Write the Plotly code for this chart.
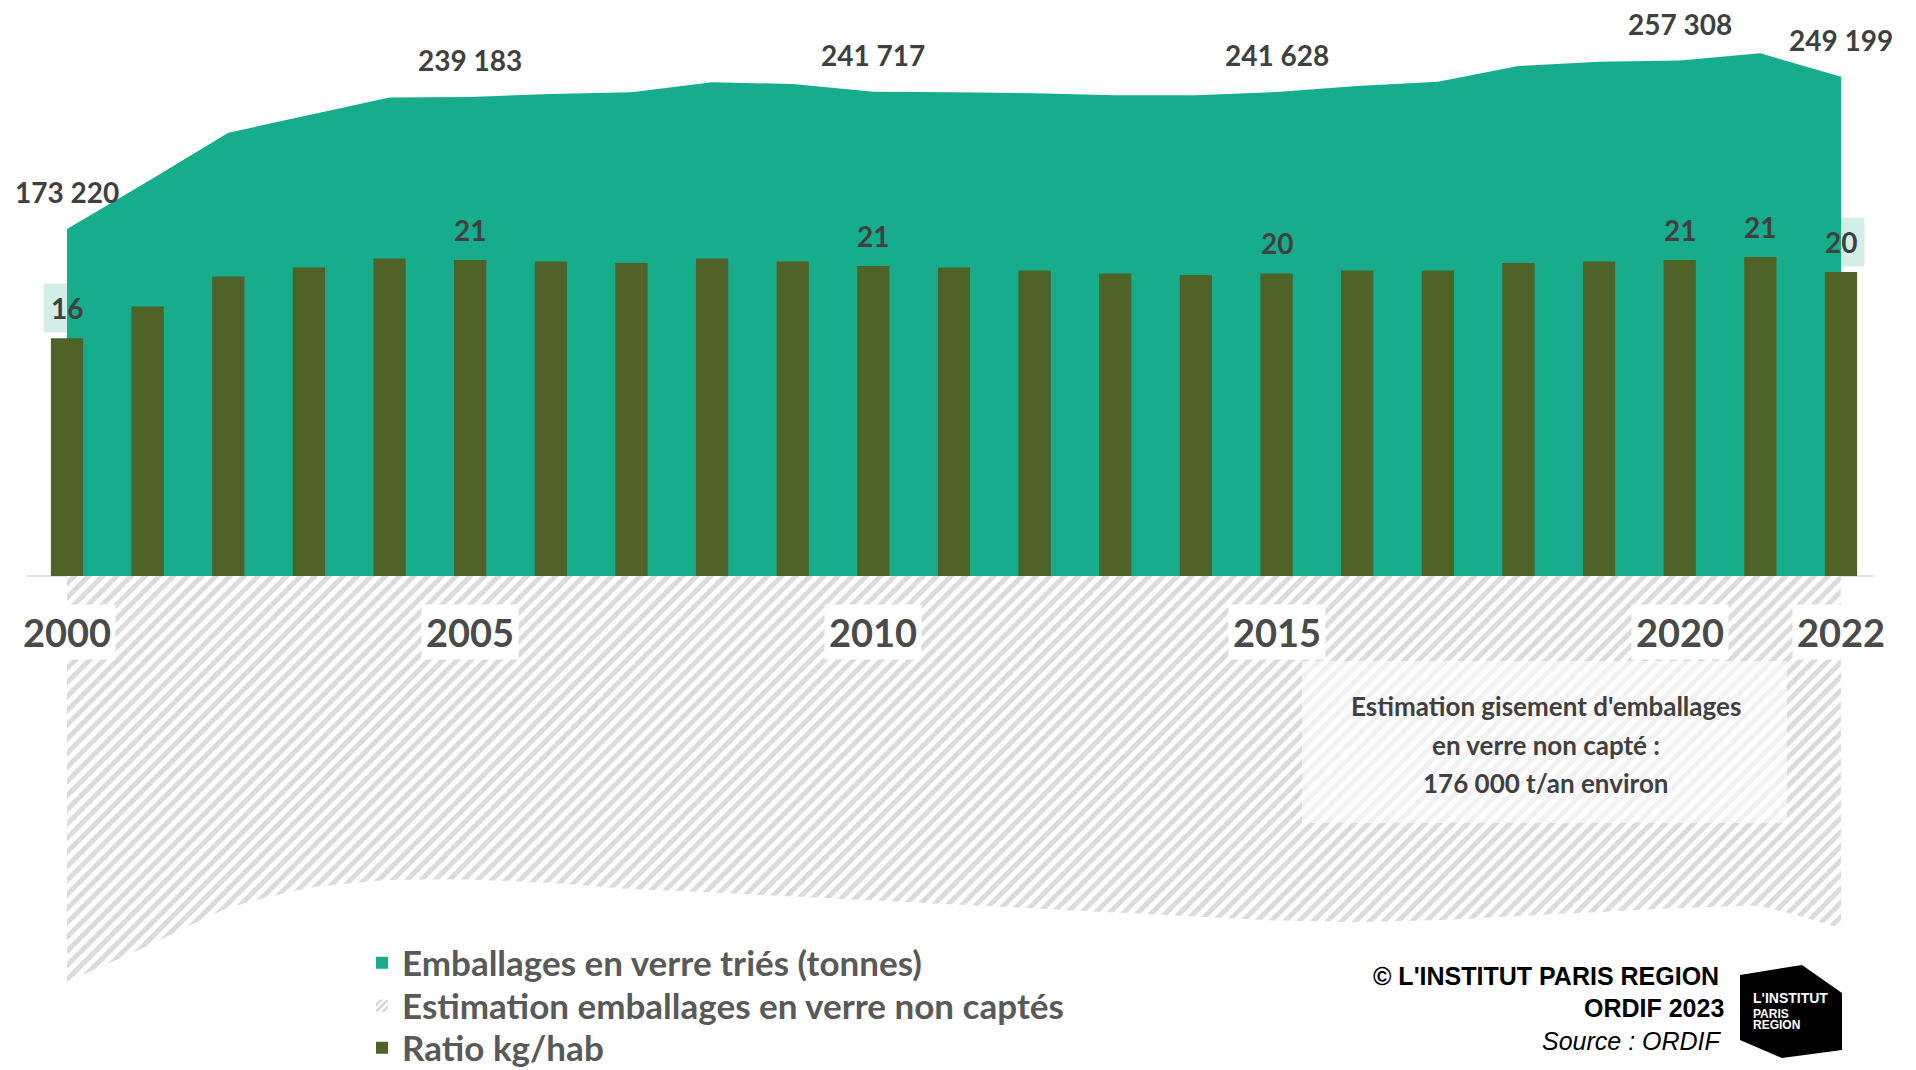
import plotly.graph_objects as go

W, H = 1916, 1070

years = list(range(2000, 2023))
tonnes_tries = [173220, 197000, 221300, 230000, 238900, 239183, 240600, 241500,
                246500, 245600, 241717, 241500, 241000, 240000, 240000, 241628,
                244600, 246800, 254600, 256800, 257308, 261000, 249199]
tonnes_non_captes = [202500, 184700, 165800, 155800, 151800, 151600, 153300, 156300,
                     158000, 160000, 162000, 164000, 166000, 168000, 170000, 172000,
                     172800, 171800, 169800, 167800, 165800, 165000, 175800]
ratio_kg_hab = [15.8, 17.9, 19.9, 20.5, 21.1, 21.0, 20.9, 20.8, 21.1, 20.9, 20.6,
                20.5, 20.3, 20.1, 20.0, 20.1, 20.3, 20.3, 20.8, 20.9, 21.0, 21.2, 20.2]

label_years_tonnes = [2000, 2005, 2010, 2015, 2020, 2022]
label_years_ratio = [2000, 2005, 2010, 2015, 2020, 2021, 2022]
boxed_ratio_years = [2000, 2022]
tick_years = [2000, 2005, 2010, 2015, 2020, 2022]

names = ["Emballages en verre triés (tonnes)",
         "Estimation emballages en verre non captés",
         "Ratio kg/hab"]
note_lines = ["Estimation gisement d'emballages", "en verre non capté :",
              "176 000 t/an environ"]
credit_lines = ["© L'INSTITUT PARIS REGION", "ORDIF 2023", "Source : ORDIF"]

GREEN = "#17AD8C"
OLIVE = "#4F6228"
HATCH = "#b8b8b8"
TXT = "#404040"

# geometry of the page (pixels)
x0_px, x1_px, base_px = 67, 1841, 576
px_per_year = (x1_px - x0_px) / 22
x_range = [2000 - x0_px / px_per_year, 2022 + (W - x1_px) / px_per_year]
t_per_px = 499.25
y_range = [-(H - base_px) * t_per_px, base_px * t_per_px]
kg_per_px = 1 / 15.05
y2_range = [-(H - base_px) * kg_per_px, base_px * kg_per_px]


def px(x):
    return x / W


def py(y):
    return 1 - y / H


def fmt(v):
    return f"{v:,}".replace(",", " ")


hatch = dict(shape="/", fgcolor=HATCH, bgcolor="white", size=10, solidity=0.5)

fig = go.Figure()

fig.add_trace(go.Scatter(
    x=years, y=tonnes_tries, mode="lines", showlegend=False,
    fill="tozeroy", fillcolor=GREEN, line=dict(width=0, color=GREEN),
    hoverinfo="skip"
))

fig.add_trace(go.Scatter(
    x=years, y=[-v for v in tonnes_non_captes], mode="lines", showlegend=False,
    fill="tozeroy", fillcolor="white",
    line=dict(width=0, color=HATCH, shape="spline", smoothing=0.5),
    fillpattern=hatch, hoverinfo="skip"
))

fig.add_trace(go.Bar(
    x=years, y=ratio_kg_hab, yaxis="y2", showlegend=False,
    marker=dict(color=OLIVE, line=dict(width=0)), width=0.4,
    hoverinfo="skip"
))

# legend entries (square swatches like the original), one legend per row
legend_markers = [dict(color=GREEN),
                  dict(color="white", pattern=dict(hatch, fgcolor="#aaaaaa", size=6)),
                  dict(color=OLIVE)]
legend_ids = ["legend", "legend2", "legend3"]
for nm, mk, lg in zip(names, legend_markers, legend_ids):
    fig.add_trace(go.Bar(
        x=[None], y=[None], name=nm, marker=dict(line=dict(width=0), **mk),
        showlegend=True, legend=lg, hoverinfo="skip"
    ))

annotations = []
for yr in label_years_tonnes:
    v = tonnes_tries[years.index(yr)]
    annotations.append(dict(
        x=yr, y=v, xref="x", yref="y", text=fmt(v), showarrow=False,
        xanchor="center", yanchor="middle", yshift=37,
        font=dict(family="Lato", size=28, color=TXT, weight="bold")
    ))

for yr in label_years_ratio:
    v = ratio_kg_hab[years.index(yr)]
    annotations.append(dict(
        x=yr, y=v, xref="x", yref="y2", text=str(round(v)), showarrow=False,
        xanchor="center", yanchor="middle", yshift=30, borderpad=7,
        bgcolor="rgba(24,173,140,0.2)" if yr in boxed_ratio_years else None,
        font=dict(family="Lato", size=28, color=TXT, weight="bold")
    ))

for yr in tick_years:
    annotations.append(dict(
        x=yr, y=py(632), xref="x", yref="paper", text=str(yr), showarrow=False,
        xanchor="center", yanchor="middle", bgcolor="white", borderpad=4,
        font=dict(family="Lato", size=38, color="#4a4a4a", weight="bold")
    ))

for line, y in zip(note_lines, [706, 745, 783]):
    annotations.append(dict(
        x=px(1546), y=py(y), xref="paper", yref="paper", text=line, showarrow=False,
        xanchor="center", yanchor="middle",
        font=dict(family="Lato", size=26, color=TXT, weight="bold")
    ))

credit_y = [976, 1008, 1041]
credit_r = [1721, 1726, 1724]
credit_style = [("bold", "normal"), ("bold", "normal"), ("normal", "italic")]
for line, y, r, (w, st) in zip(credit_lines, credit_y, credit_r, credit_style):
    annotations.append(dict(
        x=px(r), y=py(y), xref="paper", yref="paper", text=line, showarrow=False,
        xanchor="right", yanchor="middle",
        font=dict(family="Liberation Sans", size=25, color="black", weight=w, style=st)
    ))

# logo
for line, y, s in [("L'INSTITUT", 998, 14), ("PARIS", 1014, 12), ("REGION", 1025, 12)]:
    annotations.append(dict(
        x=px(1751), y=py(y), xref="paper", yref="paper", text=line, showarrow=False,
        xanchor="left", yanchor="middle",
        font=dict(family="Liberation Sans", size=s, color="white", weight="bold")
    ))

logo_pts = [(1740, 975), (1802, 965), (1842, 993), (1842, 1050), (1782, 1058), (1740, 1040)]
logo_path = "M " + " L ".join(f"{px(a):.5f},{py(b):.5f}" for a, b in logo_pts) + " Z"

shapes = [
    dict(type="line", xref="x", yref="y", x0=1999.5, x1=2022.4, y0=0, y1=0,
         line=dict(color="#d9d9d9", width=1.5), layer="below"),
    dict(type="rect", xref="paper", yref="paper", x0=px(1302), x1=px(1787),
         y0=py(823), y1=py(661), fillcolor="rgba(255,255,255,0.62)", line=dict(width=0)),
    dict(type="path", xref="paper", yref="paper", path=logo_path,
         fillcolor="black", line=dict(width=0)),
]

legend_style = dict(
    x=px(362), xanchor="left", yanchor="middle", bgcolor="rgba(0,0,0,0)",
    font=dict(family="Lato", size=35, color="#595959", weight="bold")
)

fig.update_layout(
    width=W, height=H,
    margin=dict(l=0, r=0, t=0, b=0, autoexpand=False),
    paper_bgcolor="white", plot_bgcolor="white",
    showlegend=True,
    legend=dict(legend_style, y=py(963)),
    legend2=dict(legend_style, y=py(1006)),
    legend3=dict(legend_style, y=py(1048)),
    xaxis=dict(range=x_range, visible=False, fixedrange=True),
    yaxis=dict(range=y_range, visible=False, fixedrange=True),
    yaxis2=dict(range=y2_range, overlaying="y", visible=False, fixedrange=True),
    annotations=annotations,
    shapes=shapes,
)

fig.write_html("out.html", config={"displayModeBar": False},
               post_script="document.body.style.margin='0';")
